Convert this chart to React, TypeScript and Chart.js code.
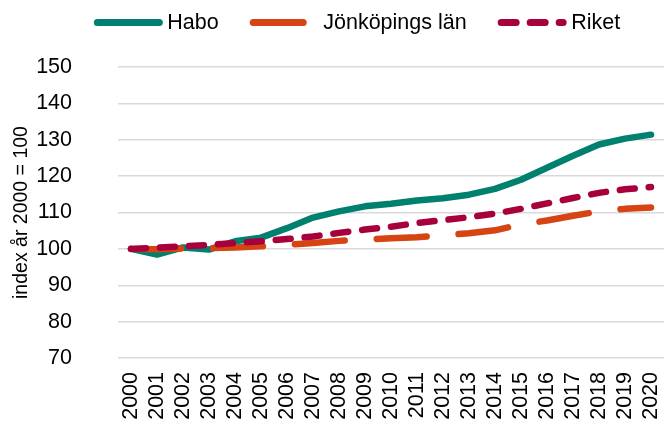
import React, { useEffect, useRef } from "react";
import { Chart, registerables } from "chart.js";

Chart.register(...registerables);

const years = ["2000","2001","2002","2003","2004","2005","2006","2007","2008","2009","2010","2011","2012","2013","2014","2015","2016","2017","2018","2019","2020"];
const habo = [100, 98.4, 100.4, 99.8, 102.1, 103.1, 105.7, 108.6, 110.3, 111.7, 112.4, 113.3, 113.9, 114.9, 116.5, 119.0, 122.3, 125.6, 128.7, 130.3, 131.4];
const jonkoping = [100, 99.9, 100.1, 100.2, 100.4, 100.7, 101.1, 101.6, 102.2, 102.6, 102.9, 103.2, 103.7, 104.3, 105.1, 106.7, 107.8, 109.1, 110.3, 111.0, 111.4];
const riket = [100, 100.3, 100.7, 101.1, 101.6, 102.1, 102.7, 103.4, 104.4, 105.3, 106.1, 107.1, 107.9, 108.7, 109.7, 111.0, 112.5, 114.0, 115.4, 116.4, 117.0];
const yTicks = [70, 80, 90, 100, 110, 120, 130, 140, 150];

const FONT = "'Liberation Sans', Arial, sans-serif";

const customLegend = {
  id: "customLegend",
  afterDraw(chart: any) {
    const ctx = chart.ctx as CanvasRenderingContext2D;
    const ds = chart.data.datasets;
    const fontSize = 21.5;
    ctx.save();
    ctx.font = `${fontSize}px ${FONT}`;
    const sample = 62;
    const lw = 7;
    const textGap = 4.5;
    const itemGap = 31;
    const widths = ds.map((d: any) => lw + sample + textGap + ctx.measureText(d.label).width);
    const total = widths.reduce((a: number, b: number) => a + b, 0) + itemGap * (ds.length - 1);
    let x = 357 - total / 2;
    const y = 22.5;
    ds.forEach((d: any, i: number) => {
      ctx.beginPath();
      ctx.lineWidth = lw;
      ctx.lineCap = "round";
      ctx.strokeStyle = d.borderColor;
      ctx.setLineDash(d.borderDash || []);
      ctx.moveTo(x + lw / 2, y);
      ctx.lineTo(x + lw / 2 + sample, y);
      ctx.stroke();
      ctx.setLineDash([]);
      ctx.fillStyle = "#000";
      ctx.textBaseline = "middle";
      ctx.textAlign = "left";
      ctx.fillText(d.label, x + lw + sample + textGap, y + 1);
      x += widths[i] + itemGap;
    });
    ctx.restore();
  },
};

export default function App() {
  const ref = useRef<HTMLCanvasElement>(null);
  useEffect(() => {
    document.body.style.margin = "0";
    const chart = new Chart(ref.current!, {
      type: "line",
      data: {
        labels: years,
        datasets: [
          { label: "Habo", data: habo, borderColor: "#00806E", backgroundColor: "#00806E", borderWidth: 6.5, pointRadius: 0, tension: 0, borderCapStyle: "round", borderJoinStyle: "round", order: 2 },
          { label: "Jönköpings län", data: jonkoping, borderColor: "#D64413", backgroundColor: "#D64413", borderWidth: 6.5, borderDash: [50, 32], pointRadius: 0, tension: 0, borderCapStyle: "round", borderJoinStyle: "round", order: 1 },
          { label: "Riket", data: riket, borderColor: "#A8003C", backgroundColor: "#A8003C", borderWidth: 6.5, borderDash: [15, 14], pointRadius: 0, tension: 0, borderCapStyle: "round", borderJoinStyle: "round", order: 0 },
        ],
      },
      options: {
        responsive: false,
        animation: false,
        layout: { padding: { top: 67, right: -5, left: 0, bottom: 0 } },
        plugins: { legend: { display: false }, tooltip: { enabled: false } },
        scales: {
          x: {
            type: "category",
            offset: true,
            grid: { display: false, drawTicks: false },
            border: { display: false },
            ticks: { minRotation: 90, maxRotation: 90, autoSkip: false, padding: 14, color: "#000", font: { family: FONT, size: 21.5 } },
            afterFit: (s: any) => { s.height = 64; s.paddingLeft = 0; s.paddingRight = 0; },
          },
          y: {
            min: yTicks[0],
            max: yTicks[yTicks.length - 1],
            afterBuildTicks: (s: any) => { s.ticks = yTicks.map((v) => ({ value: v })); },
            grid: { color: "#d9d9d9", lineWidth: 1.5, drawTicks: false },
            border: { display: false },
            ticks: { padding: 46, color: "#000", font: { family: FONT, size: 21.5 } },
            title: { display: true, text: "index år 2000 = 100", color: "#000", font: { family: FONT, size: 19.5 }, padding: { top: 10, bottom: 0 } },
            afterFit: (s: any) => { s.width = 118; s.paddingTop = 0; s.paddingBottom = 0; },
          },
        },
      },
      plugins: [customLegend],
    });
    return () => chart.destroy();
  }, []);
  return (
    <div style={{ position: "fixed", left: 0, top: 0, width: 664, height: 422 }}>
      <canvas ref={ref} width={664} height={422} />
    </div>
  );
}
